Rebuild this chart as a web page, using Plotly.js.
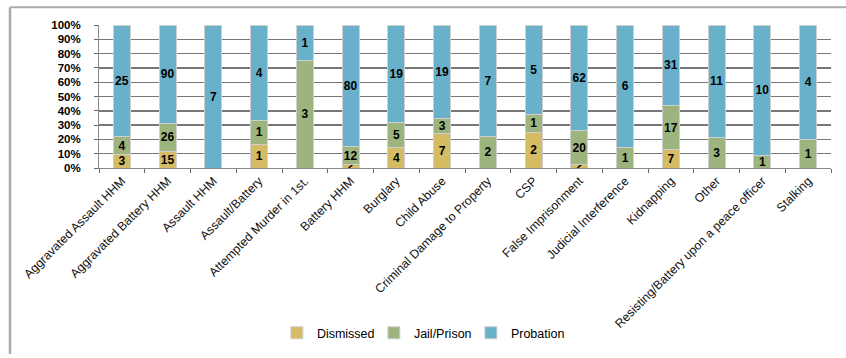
<!DOCTYPE html>
<html><head><meta charset="utf-8">
<script src="https://cdn.plot.ly/plotly-3.0.1.min.js"></script>
<style>html,body{margin:0;padding:0;background:#fff}</style>
</head><body>
<div id="chart" style="width:846px;height:358px"></div>
<script>
const categories = ["Aggravated Assault HHM","Aggravated Battery HHM","Assault HHM","Assault/Battery","Attempted Murder in 1st.","Battery HHM","Burglary","Child Abuse","Criminal Damage to Property","CSP","False Imprisonment","Judicial Interference","Kidnapping","Other","Resisting/Battery upon a peace officer","Stalking"];
const dismissed = [3,15,0,1,0,2,4,7,0,2,2,0,7,0,0,0];
const jailPrison = [4,26,0,1,3,12,5,3,2,1,20,1,17,3,1,1];
const probation = [25,90,7,4,1,80,19,19,7,5,62,6,31,11,10,4];
const seriesNames = ["Dismissed","Jail/Prison","Probation"];
const colors = ["#D5BB63","#9DB47F","#69B1CB"];

const font = "Liberation Sans Narrow, Liberation Sans, Arial, sans-serif";
const vals = [dismissed, jailPrison, probation];
const traces = vals.map((v,i)=>({
  type:'bar', x:categories, y:v, name:seriesNames[i],
  marker:{color:colors[i], line:{color:'#cfcfcf', width:1}},
  text:v.map(n=> n>0 ? String(n) : ''),
  textposition:'inside', insidetextanchor:'middle', textangle:0,
  constraintext:'none',
  textfont:{family:font, size:12, color:'#000', weight:'bold'},
  hoverinfo:'skip'
}));

const layout = {
  width:846, height:358,
  margin:{l:99, r:15, t:25, b:189},
  barmode:'stack', barnorm:'percent', bargap:0.63,
  uniformtext:{mode:'show', minsize:12},
  paper_bgcolor:'#fff', plot_bgcolor:'#fff',
  font:{family:font, color:'#000'},
  xaxis:{tickangle:-45, tickfont:{family:font, size:12.3, color:'#111'},
    ticks:'outside', tickson:'boundaries', ticklen:4, tickcolor:'#666',
    showline:true, linecolor:'#888', linewidth:1, showgrid:false},
  yaxis:{range:[0,100], dtick:10, ticksuffix:'%', showgrid:true,
    gridcolor:'#777777', gridwidth:1.4, ticks:'outside', ticklen:4, tickcolor:'#666',
    showline:true, linecolor:'#888', zeroline:false, ticklabelstandoff:11,
    tickfont:{family:font, size:11.5, color:'#000', weight:'bold'}},
  legend:{orientation:'h', x:0.243, xanchor:'left', y:-1.14, yanchor:'middle',
    font:{family:font, size:12.5, color:'#000'}, traceorder:'normal', itemwidth:30,
    entrywidth:52, entrywidthmode:'pixels'},
  shapes:[
    {type:'line', xref:'paper', yref:'paper', x0:-0.1216, x1:1.025, y0:1.125, y1:1.125, line:{color:'#aaaaaa', width:2}},
    {type:'line', xref:'paper', yref:'paper', x0:-0.1216, x1:-0.1216, y0:1.125, y1:-1.3, line:{color:'#aaaaaa', width:2.5}}
  ],
  showlegend:true
};
Plotly.newPlot('chart', traces, layout, {staticPlot:true});
</script>
</body></html>
